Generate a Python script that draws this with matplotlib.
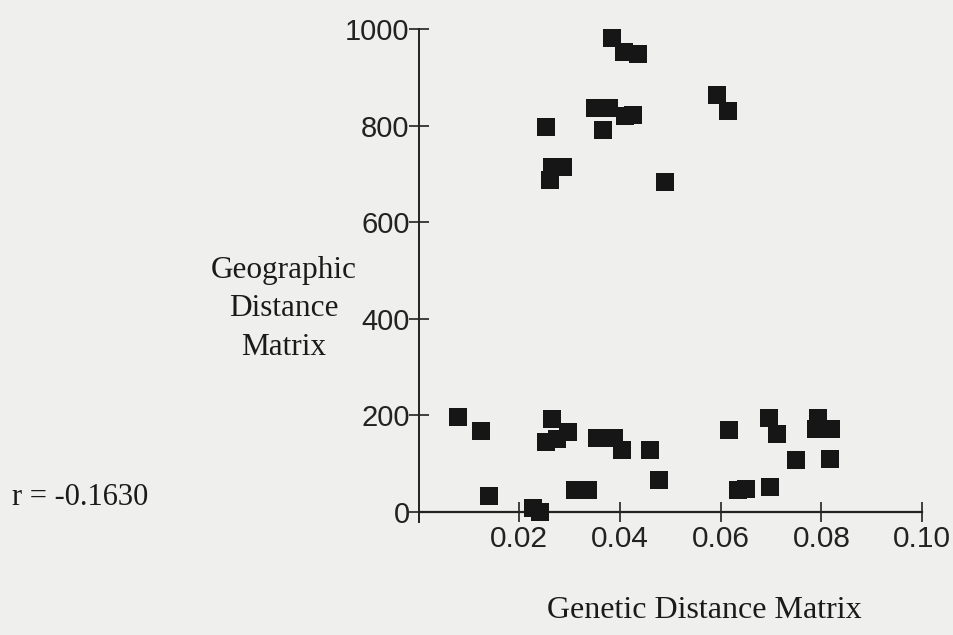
import matplotlib
matplotlib.use("Agg")
import matplotlib.pyplot as plt

# Data
genetic = [0.0384, 0.0407, 0.0436, 0.0351, 0.0378, 0.0410, 0.0425, 0.0366, 0.0253, 0.0264,
           0.0287, 0.0261, 0.0489, 0.0593, 0.0615,
           0.0079, 0.0123, 0.0139, 0.0227, 0.0242, 0.0265, 0.0253, 0.0275, 0.0296, 0.0311,
           0.0336, 0.0354, 0.0388, 0.0403, 0.0460, 0.0478,
           0.0616, 0.0635, 0.0650, 0.0697, 0.0695, 0.0711, 0.0749, 0.0793, 0.0789, 0.0820, 0.0817]
geographic = [982, 952, 948, 837, 836, 821, 822, 791, 798, 714,
              714, 688, 684, 864, 830,
              197, 168, 33, 7, 0, 192, 145, 150, 166, 44,
              44, 153, 153, 127, 128, 66,
              169, 45, 46, 50, 194, 161, 106, 194, 172, 172, 108]
xticks = [0.02, 0.04, 0.06, 0.08, 0.10]
xticklabels = ["0.02", "0.04", "0.06", "0.08", "0.10"]
yticks = [0, 200, 400, 600, 800, 1000]
yticklabels = ["0", "200", "400", "600", "800", "1000"]

W, H = 954, 635
bg = "#efefed"
fig = plt.figure(figsize=(W / 100, H / 100), dpi=100, facecolor=bg)

left, right = 418.6, 922.1
top, bottom = 29.3, 521.7
ax = fig.add_axes([left / W, (H - bottom) / H, (right - left) / W, (bottom - top) / H])
ax.set_facecolor("none")
ax.set_xlim(0, 0.10)
ax.set_ylim(-21, 1000)

ax.scatter(genetic, geographic, marker="s", s=12.8 ** 2, color="#161616",
           linewidths=0, clip_on=False, zorder=3)

for s in ["top", "right"]:
    ax.spines[s].set_visible(False)
ax.spines["bottom"].set_position(("data", 0))
ax.spines["left"].set_linewidth(1.4)
ax.spines["bottom"].set_linewidth(1.6)
ax.spines["left"].set_color("#222222")
ax.spines["bottom"].set_color("#222222")

tick_font = "Liberation Sans"
ax.set_xticks(xticks)
ax.set_xticklabels(xticklabels, fontfamily=tick_font, fontsize=21.5)
ax.set_yticks(yticks)
ax.set_yticklabels(yticklabels, fontfamily=tick_font, fontsize=21)
ax.tick_params(axis="x", direction="inout", length=15, width=1.2, pad=2, colors="#222222")
ax.tick_params(axis="y", direction="inout", length=15, width=1.2, pad=-1, colors="#222222")

serif = "Liberation Serif"
fig.text(284 / W, (H - 309) / H, "Geographic\nDistance\nMatrix", ha="center", va="center",
         multialignment="center", fontfamily=serif, fontsize=22.5, linespacing=1.45,
         color="#1a1a1a")
fig.text(11.7 / W, (H - 505) / H, "r = -0.1630", ha="left", va="baseline",
         fontfamily=serif, fontsize=22, color="#1a1a1a")
fig.text(704 / W, (H - 618) / H, "Genetic Distance Matrix", ha="center", va="baseline",
         fontfamily=serif, fontsize=23, color="#1a1a1a")

fig.savefig("out.png", dpi=100, facecolor=bg)
